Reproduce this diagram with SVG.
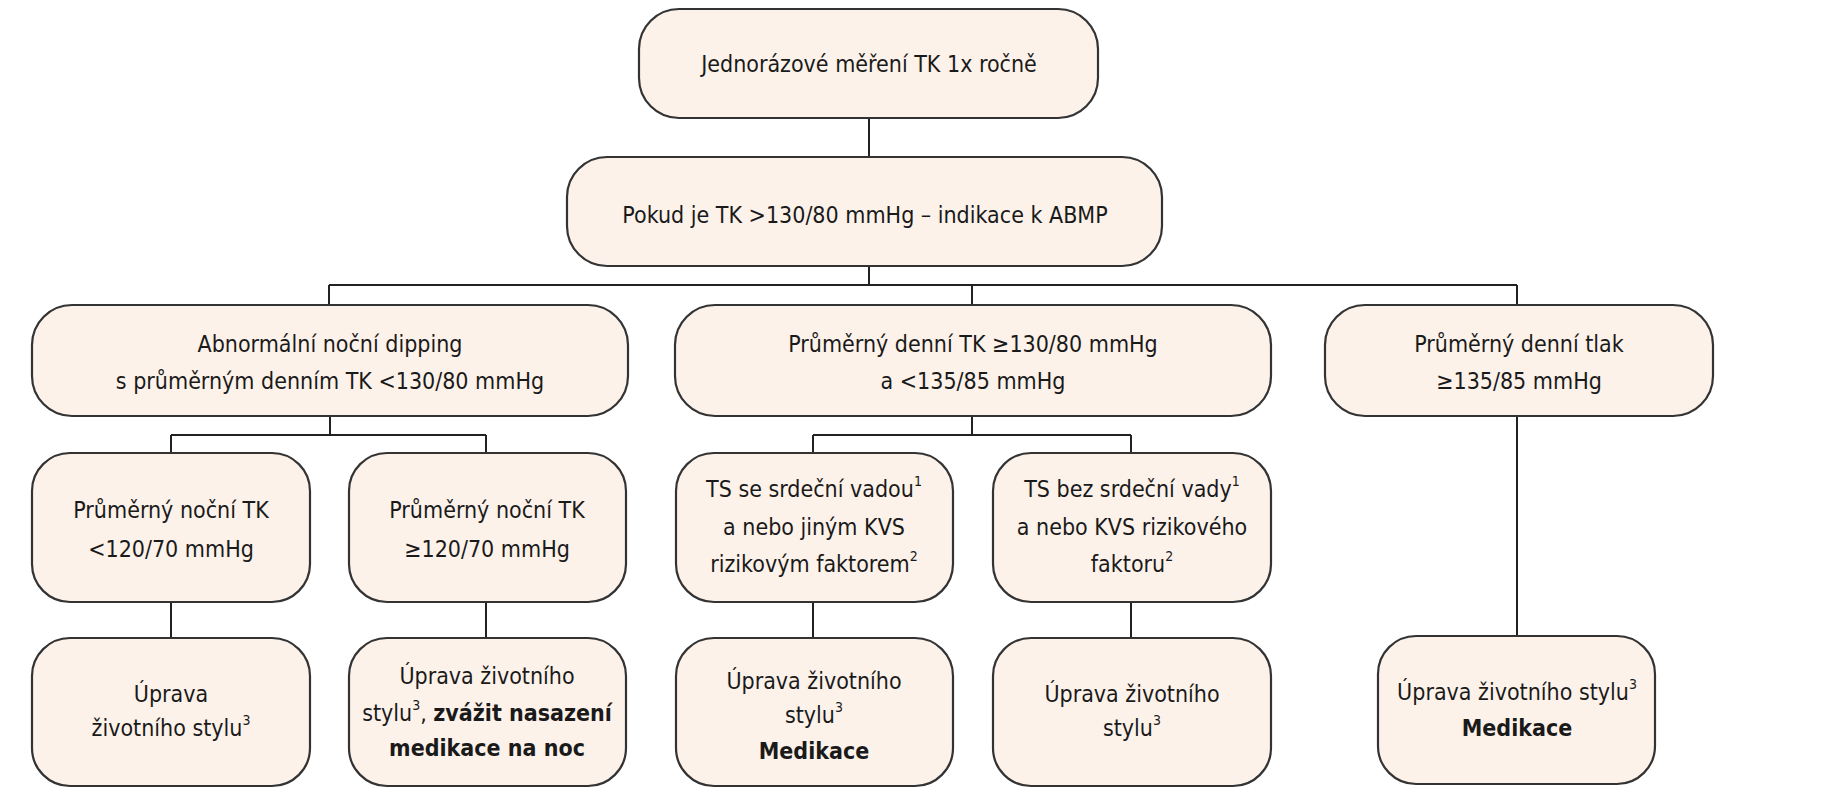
<svg xmlns="http://www.w3.org/2000/svg" width="1844" height="800" viewBox="0 0 1844 800">
<style>
.b{fill:#fdf2ea;stroke:#333;stroke-width:2.2}
text{font-family:"DejaVu Sans Condensed","Liberation Sans",sans-serif;font-size:23px;fill:#1a1a1a;text-anchor:middle;dominant-baseline:middle}
.s{font-size:14px;baseline-shift:super}
.bo{font-weight:bold}
.c{stroke:#222;stroke-width:2;fill:none}
</style>
<rect width="1844" height="800" fill="#fff"/>
<g id="connectors">
<path class="c" d="M869 118V157M869 266V285M329 285H1517M329 285V305M972 285V305M1517 285V305"/>
<path class="c" d="M330 416V435M171 435H486M171 435V453M486 435V453"/>
<path class="c" d="M972 416V435M813 435H1131M813 435V453M1131 435V453"/>
<path class="c" d="M171 602V638M486 602V638M813 602V638M1131 602V638M1517 416V638"/>
</g>
<g id="n1"><rect class="b" x="639" y="9" width="459" height="109" rx="40"/><text x="869" y="65">Jednorázové měření TK 1x ročně</text></g>
<g id="n2"><rect class="b" x="567" y="157" width="595" height="109" rx="40"/><text x="865" y="216">Pokud je TK &gt;130/80 mmHg – indikace k ABMP</text></g>
<g id="n3"><rect class="b" x="32" y="305" width="596" height="111" rx="40"/><text x="330" y="345">Abnormální noční dipping</text><text x="330" y="382">s průměrným denním TK &lt;130/80 mmHg</text></g>
<g id="n4"><rect class="b" x="675" y="305" width="596" height="111" rx="40"/><text x="973" y="345">Průměrný denní TK ≥130/80 mmHg</text><text x="973" y="382">a &lt;135/85 mmHg</text></g>
<g id="n5"><rect class="b" x="1325" y="305" width="388" height="111" rx="40"/><text x="1519" y="345">Průměrný denní tlak</text><text x="1519" y="382">≥135/85 mmHg</text></g>
<g id="n6"><rect class="b" x="32" y="453" width="278" height="149" rx="38"/><text x="171" y="511">Průměrný noční TK</text><text x="171" y="550">&lt;120/70 mmHg</text></g>
<g id="n7"><rect class="b" x="349" y="453" width="277" height="149" rx="38"/><text x="487" y="511">Průměrný noční TK</text><text x="487" y="550">≥120/70 mmHg</text></g>
<g id="n8"><rect class="b" x="676" y="453" width="277" height="149" rx="38"/><text x="814" y="490">TS se srdeční vadou<tspan class="s">1</tspan></text><text x="814" y="528">a nebo jiným KVS</text><text x="814" y="565">rizikovým faktorem<tspan class="s">2</tspan></text></g>
<g id="n9"><rect class="b" x="993" y="453" width="278" height="149" rx="38"/><text x="1132" y="490">TS bez srdeční vady<tspan class="s">1</tspan></text><text x="1132" y="528">a nebo KVS rizikového</text><text x="1132" y="565">faktoru<tspan class="s">2</tspan></text></g>
<g id="n10"><rect class="b" x="32" y="638" width="278" height="148" rx="38"/><text x="171" y="695">Úprava</text><text x="171" y="729">životního stylu<tspan class="s">3</tspan></text></g>
<g id="n11"><rect class="b" x="349" y="638" width="277" height="148" rx="38"/><text x="487" y="677">Úprava životního</text><text x="487" y="714">stylu<tspan class="s">3</tspan>, <tspan class="bo">zvážit nasazení</tspan></text><text x="487" y="749" class="bo">medikace na noc</text></g>
<g id="n12"><rect class="b" x="676" y="638" width="277" height="148" rx="38"/><text x="814" y="682">Úprava životního</text><text x="814" y="716">stylu<tspan class="s">3</tspan></text><text x="814" y="752" class="bo">Medikace</text></g>
<g id="n13"><rect class="b" x="993" y="638" width="278" height="148" rx="38"/><text x="1132" y="695">Úprava životního</text><text x="1132" y="729">stylu<tspan class="s">3</tspan></text></g>
<g id="n14"><rect class="b" x="1378" y="636" width="277" height="148" rx="38"/><text x="1517" y="693">Úprava životního stylu<tspan class="s">3</tspan></text><text x="1517" y="729" class="bo">Medikace</text></g>
</svg>
